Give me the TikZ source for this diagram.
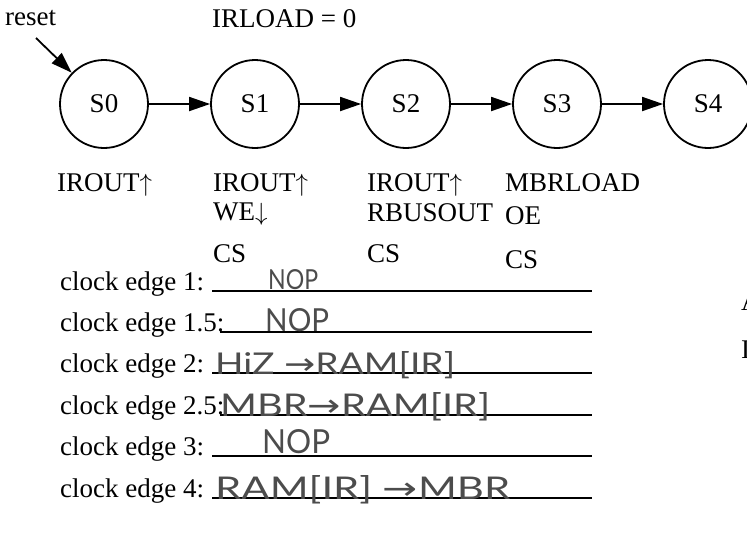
\documentclass[tikz,border=0pt]{standalone}
\usepackage{fontspec}
\setmainfont{Liberation Serif}
\newfontfamily\handfont{Lato}
\newfontfamily\arrfont{DejaVu Sans}
\usetikzlibrary{arrows.meta}
\begin{document}
\begin{tikzpicture}[x=1pt,y=-1pt,
  every node/.style={font=\fontsize{27}{32}\selectfont, inner sep=0pt},
  state/.style={circle, draw, line width=1.8pt, minimum size=88pt, inner sep=0pt},
  trans/.style={line width=1.8pt, -{Triangle[length=21pt,width=14pt]}},
  lab/.style={anchor=base west},
  rule/.style={line width=1.4pt},
  hand/.style={anchor=base west, font=\handfont\fontsize{26}{30}\selectfont, text=black!70}]
\useasboundingbox (0,0) rectangle (747,558);
\clip (0,0) rectangle (747,558);
% states
\node[state] (s0) at (104,104) {S0};
\node[state] (s1) at (255,104) {S1};
\node[state] (s2) at (406,104) {S2};
\node[state] (s3) at (557,104) {S3};
\node[state] (s4) at (708,104) {S4};
\draw[trans] (s0) -- (s1);
\draw[trans] (s1) -- (s2);
\draw[trans] (s2) -- (s3);
\draw[trans] (s3) -- (s4);
% reset
\node[lab] (reset) at (5,25) {reset};
\coordinate (rs) at (36,38);
\draw[trans] (rs) -- (s0);
\node[lab] (irload) at (212,27) {IRLOAD = 0};
% outputs
\node[lab] (o0a) at (57,191) {IROUT$\uparrow$};
\node[lab] (o1a) at (213,191) {IROUT$\uparrow$};
\node[lab] (o1b) at (213,220) {WE$\downarrow$};
\node[lab] (o1c) at (213,262) {CS};
\node[lab] (o2a) at (367,191) {IROUT$\uparrow$};
\node[lab] (o2b) at (367,221) {RBUSOUT};
\node[lab] (o2c) at (367,262) {CS};
\node[lab] (o3a) at (505,191) {MBRLOAD};
\node[lab] (o3b) at (505,224) {OE};
\node[lab] (o3c) at (505,268) {CS};
% clock edges
\node[lab] (c1) at (60,290) {clock edge 1:};
\node[lab] (c15) at (60,331) {clock edge 1.5:};
\node[lab] (c2) at (60,372) {clock edge 2:};
\node[lab] (c25) at (60,414) {clock edge 2.5:};
\node[lab] (c3) at (60,455) {clock edge 3:};
\node[lab] (c4) at (60,497) {clock edge 4:};
\draw[rule] (212,291) -- (592,291);
\draw[rule] (220,332) -- (592,332);
\draw[rule] (212,373) -- (592,373);
\draw[rule] (220,415) -- (592,415);
\draw[rule] (212,456) -- (592,456);
\draw[rule] (212,498) -- (592,498);
% handwriting
\node[hand] (h1) at (268,289) {\resizebox{50pt}{20pt}{NOP}};
\node[hand] (h15) at (265,331) {\resizebox{64pt}{23pt}{NOP}};
\node[hand] (h2) at (215,374) {\resizebox{240pt}{23pt}{HiZ {\arrfont→}RAM[IR]}};
\node[hand] (h25) at (220,416) {\resizebox{270pt}{24pt}{MBR{\arrfont→}RAM[IR]}};
\node[hand] (h3) at (262,453) {\resizebox{68pt}{24pt}{NOP}};
\node[hand] (h4) at (215,499) {\resizebox{295pt}{24pt}{RAM[IR] {\arrfont→}MBR}};
% right margin text
\node[lab] (are) at (741,310) {Are};
\node[lab] (ify) at (741,358) {If y};
\end{tikzpicture}
\end{document}
